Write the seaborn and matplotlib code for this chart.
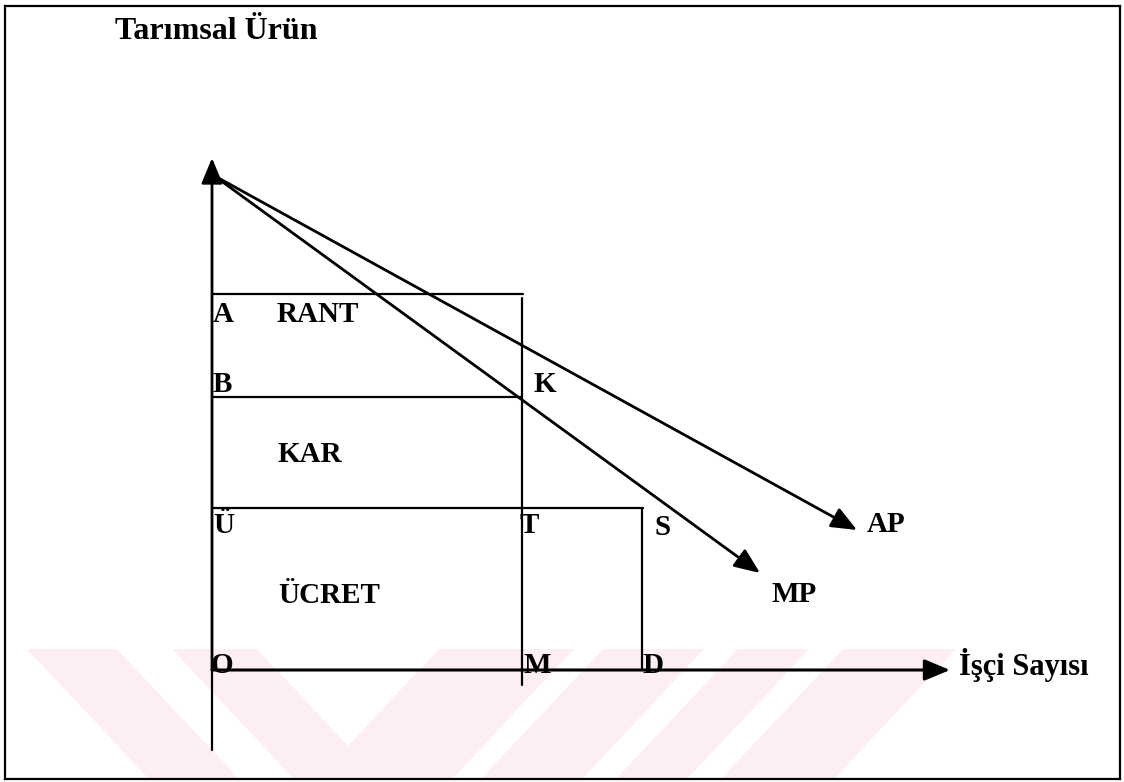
import numpy as np
import pandas as pd
import seaborn as sns
import matplotlib.pyplot as plt

# Diagram coordinates: origin at O, x = number of workers, y = farm output.

# points on the worker axis
axis_names = ["O", "M", "D"]
axis_x = [0, 310, 430]

# horizontal levels (A = rent line, B = profit line, Ü = wage line)
level_names = ["A", "B", "Ü"]
level_y = [376, 273, 162]
level_end_x = [311, 310, 431]

# vertical guides at M and D
m_line_y = [-15, 372]
d_line_y = [0, 162]

# axes extents
y_axis_y = [-80, 512]
x_axis_end = 738

# MP and AP curves (straight, falling)
curve_start = [1, 495]
mp_end = [548, 97]
ap_end = [645, 140]

# text labels
label_text = ["A", "B", "Ü", "K", "T", "S", "O", "M", "D", "MP", "AP"]
label_x = [1, 1, 1, 322, 308, 443, -1, 312, 430, 560, 655]
label_y = [348, 278, 137, 278, 137, 135, -3, -3, -3, 68, 138]

region_text = ["RANT", "KAR", "ÜCRET"]
region_x = [65, 65, 66]
region_y = [348, 208, 67]

title_text = "Tarımsal Ürün"
xlabel_text = "İşçi Sayısı"

# background watermark stripes: (top-left, top-right, bottom-left, bottom-right)
wm_top, wm_bottom = 21, -109
wm_bands = [
    (-185, -95, -63, 27),
    (-40, 45, 82, 167),
    (227, 362, 105, 240),
    (391, 492, 269, 370),
    (526, 597, 404, 475),
    (631, 744, 509, 622),
]

sns.set_theme(style="white")
plt.rcParams["font.family"] = ["Liberation Serif", "DejaVu Serif"]

fig = plt.figure(figsize=(11.24, 7.82), dpi=100)
ax = fig.add_axes([5 / 1124, 3 / 782, 1115 / 1124, 773 / 782])
ax.set_xlim(-207, 908)
ax.set_ylim(-109, 664)

# watermark
for tl, tr, bl, br in wm_bands:
    ax.fill([tl, tr, br, bl], [wm_top, wm_top, wm_bottom, wm_bottom],
            color="#fdeef1", lw=0, zorder=0)

# box lines built into one table, one unit per segment
rows = []
seg = 0
for name, y, x1 in zip(level_names, level_y, level_end_x):
    rows += [(seg, 0, y), (seg, x1, y)]
    seg += 1
rows += [(seg, axis_x[1], m_line_y[0]), (seg, axis_x[1], m_line_y[1])]
seg += 1
rows += [(seg, axis_x[2], d_line_y[0]), (seg, axis_x[2], d_line_y[1])]
seg += 1
rows += [(seg, 0, y_axis_y[0]), (seg, 0, 0)]
seg += 1
segs = pd.DataFrame(rows, columns=["seg", "x", "y"])

sns.lineplot(data=segs, x="x", y="y", units="seg", estimator=None, sort=False,
             color="black", lw=1.6, ax=ax, zorder=3)

# arrows: axes and curves
head = "-|>,head_length=0.6,head_width=0.25"
arrows = [
    ((0, 0), (0, y_axis_y[1]), 2.0),
    ((0, 0), (x_axis_end, 0), 2.2),
    (tuple(curve_start), tuple(mp_end), 2.0),
    (tuple(curve_start), tuple(ap_end), 2.0),
]
for start, end, lw in arrows:
    ax.annotate("", xy=end, xytext=start,
                arrowprops=dict(arrowstyle=head, mutation_scale=26, color="black",
                                lw=lw, shrinkA=0, shrinkB=0), zorder=4)

txt = dict(fontsize=21, fontweight="bold", color="black", ha="left", va="baseline", zorder=5)
for s, x, y in zip(label_text, label_x, label_y):
    ax.text(x, y, s, **txt)
for s, x, y in zip(region_text, region_x, region_y):
    ax.text(x, y, s, **txt)

ax.text(-97, 631, title_text, fontsize=23, fontweight="bold", color="black",
        ha="left", va="baseline")
ax.text(747, -5, xlabel_text, fontsize=22, fontweight="bold", color="black",
        ha="left", va="baseline")

ax.set_xlabel("")
ax.set_ylabel("")
ax.set_xticks([])
ax.set_yticks([])
for sp in ax.spines.values():
    sp.set_visible(True)
    sp.set_color("black")
    sp.set_linewidth(1.6)

fig.savefig("out.png", dpi=100)
